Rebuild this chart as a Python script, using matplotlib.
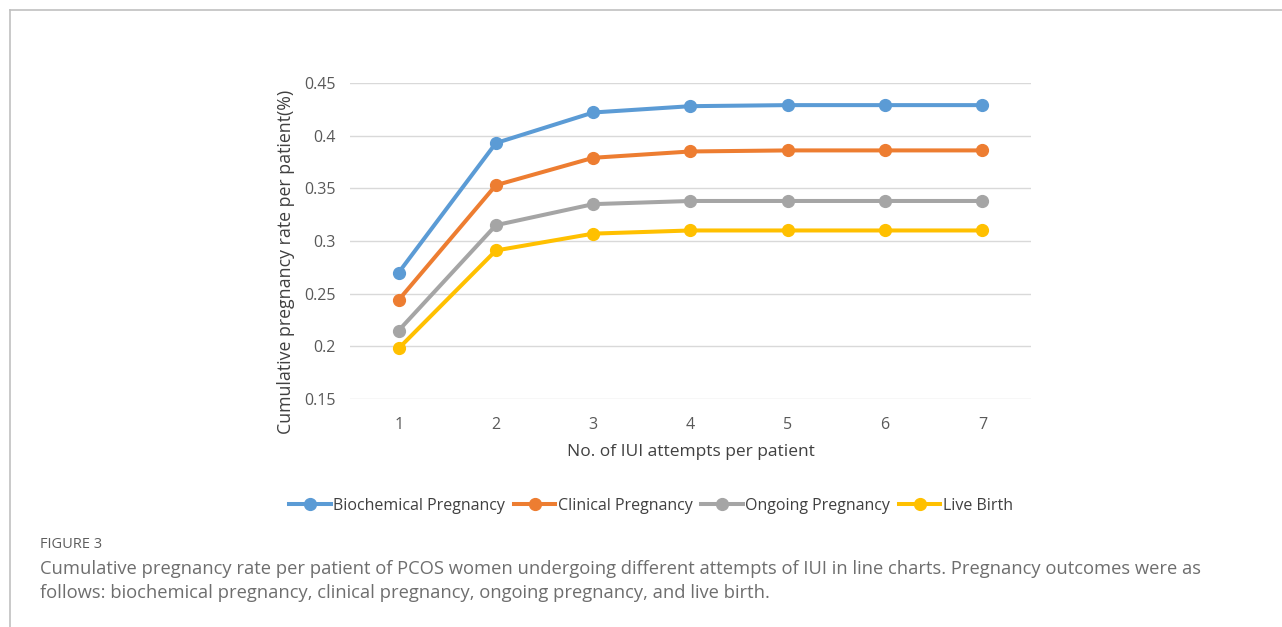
import matplotlib.pyplot as plt
from matplotlib.lines import Line2D

attempts = [1, 2, 3, 4, 5, 6, 7]
biochemical = [0.270, 0.393, 0.422, 0.428, 0.429, 0.429, 0.429]
clinical = [0.244, 0.353, 0.379, 0.385, 0.386, 0.386, 0.386]
ongoing = [0.215, 0.315, 0.335, 0.338, 0.338, 0.338, 0.338]
live_birth = [0.198, 0.291, 0.307, 0.310, 0.310, 0.310, 0.310]

series = [
    ("Biochemical Pregnancy", biochemical, "#5B9BD5"),
    ("Clinical Pregnancy", clinical, "#ED7D31"),
    ("Ongoing Pregnancy", ongoing, "#A5A5A5"),
    ("Live Birth", live_birth, "#FFC000"),
]

plt.rcParams['font.family'] = ['Open Sans', 'DejaVu Sans']

fig = plt.figure(figsize=(12.82, 6.27), dpi=100)
ax = fig.add_axes([350 / 1282, 1 - 399 / 627, 681 / 1282, 316 / 627])

for name, vals, col in series:
    ax.plot(attempts, vals, color=col, lw=2.9, marker='o', ms=8.5, label=name)

ax.set_xlim(0.5, 7.5)
ax.set_ylim(0.15, 0.45)
ax.set_xticks(attempts)
ax.set_yticks([0.15, 0.2, 0.25, 0.3, 0.35, 0.4, 0.45])
ax.set_yticklabels(['0.15', '0.2', '0.25', '0.3', '0.35', '0.4', '0.45'])
ax.grid(axis='y', color='#d9d9d9', lw=1)
ax.set_axisbelow(True)
for s in ax.spines.values():
    s.set_visible(False)
ax.tick_params(length=0, labelsize=11.5, colors='#595959', pad=13)
ax.tick_params(axis='y', pad=10)
ax.set_xlabel("No. of IUI attempts per patient", fontsize=12.5, color='#404040', labelpad=8)
ax.set_ylabel("Cumulative pregnancy rate per patient(%)", fontsize=12.8, color='#404040')
ax.yaxis.set_label_coords(-0.081, 0.434)

handles = [Line2D([], [], color=c, lw=2.9, marker='o', ms=8.5) for _, _, c in series]
fig.legend(handles, [n for n, _, _ in series], loc='center', bbox_to_anchor=(651 / 1282, 1 - 506 / 627),
           ncol=4, frameon=False, fontsize=11.5, handlelength=2.6, handletextpad=0.15,
           columnspacing=0.55, labelcolor='#404040')

# figure frame (left and top rules)
fig.add_artist(Line2D([10 / 1282, 10 / 1282], [0, 1 - 10 / 627], color='#c0c0c0', lw=1.2))
fig.add_artist(Line2D([10 / 1282, 1], [1 - 10 / 627, 1 - 10 / 627], color='#c0c0c0', lw=1.2))

fig.text(40 / 1282, 1 - 545 / 627, "FIGURE 3", fontsize=10.5, color='#5e5e5e', va='center')
fig.text(40 / 1282, 1 - 569 / 627,
         "Cumulative pregnancy rate per patient of PCOS women undergoing different attempts of IUI in line charts. "
         "Pregnancy outcomes were as",
         fontsize=13.2, color='#6e6e6e', va='center')
fig.text(40 / 1282, 1 - 593 / 627,
         "follows: biochemical pregnancy, clinical pregnancy, ongoing pregnancy, and live birth.",
         fontsize=13.2, color='#6e6e6e', va='center')

fig.savefig('out.png', dpi=100)
